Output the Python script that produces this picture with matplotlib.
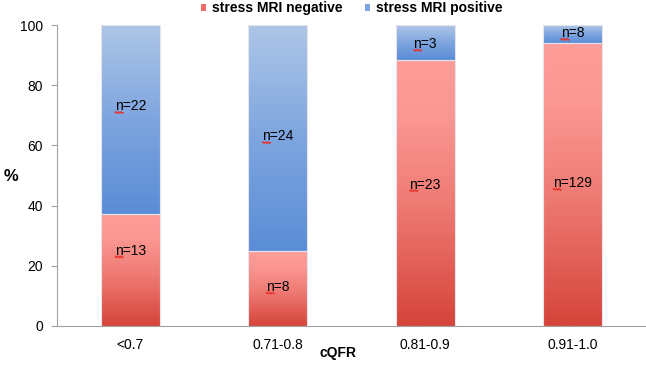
import numpy as np
import matplotlib
matplotlib.use("Agg")
import matplotlib.pyplot as plt
from matplotlib.colors import LinearSegmentedColormap
from matplotlib.patches import Patch

plt.rcParams['font.family'] = ['Liberation Sans', 'DejaVu Sans']

categories = ["<0.7", "0.71-0.8", "0.81-0.9", "0.91-1.0"]
n_negative = [13, 8, 23, 129]
n_positive = [22, 24, 3, 8]
series_names = ["stress MRI negative", "stress MRI positive"]

neg = np.array(n_negative, float)
pos = np.array(n_positive, float)
pct_neg = 100 * neg / (neg + pos)
pct_pos = 100 - pct_neg

red_cmap = LinearSegmentedColormap.from_list(
    "r", [(0, "#d5443a"), (0.45, "#ee7a73"), (0.8, "#fc9893"), (1, "#ff9d99")])
blue_cmap = LinearSegmentedColormap.from_list(
    "b", [(0, "#5a8dd6"), (0.5, "#7ea5df"), (1, "#adc6e7")])

fig = plt.figure(figsize=(6.46, 3.65), dpi=100)
ax = fig.add_axes([0.088, 0.107, 0.912, 0.8245])
x = np.arange(len(categories))
width = 0.4

grad = np.linspace(0, 1, 256).reshape(-1, 1)

def grad_bar(xc, bottom, height, cmap):
    bars = ax.bar(xc, height, width, bottom=bottom, facecolor="none",
                  edgecolor="#e4e4ea", linewidth=0.8, zorder=3)
    rect = bars[0]
    im = ax.imshow(grad, cmap=cmap, origin="lower", aspect="auto",
                   extent=(xc - width / 2, xc + width / 2, bottom, bottom + height),
                   zorder=2, interpolation="bilinear")
    im.set_clip_path(rect)

for i in range(len(categories)):
    grad_bar(x[i], 0, pct_neg[i], red_cmap)
    grad_bar(x[i], pct_neg[i], pct_pos[i], blue_cmap)

# label positions (layout)
neg_label_y = [25, 13, 47, 47.5]
pos_label_y = [73, 63, 93.7, 97.3]

texts = []
for i in range(len(categories)):
    texts.append(ax.text(x[i], neg_label_y[i], f"n={n_negative[i]}", ha="center",
                         va="center", fontsize=10, zorder=5))
    texts.append(ax.text(x[i], pos_label_y[i], f"n={n_positive[i]}", ha="center",
                         va="center", fontsize=10, zorder=5))

ax.set_xlim(-0.5, 3.5)
ax.set_ylim(0, 100)
ax.set_yticks([0, 20, 40, 60, 80, 100])
ax.set_xticks(x)
ax.set_xticklabels(categories, fontsize=10)
ax.tick_params(axis="y", labelsize=10, length=4, color="#a0a0a0", pad=6)
ax.tick_params(axis="x", length=0, pad=9)
for s in ["top", "right"]:
    ax.spines[s].set_visible(False)
ax.spines["left"].set_color("#a0a0a0")
ax.spines["bottom"].set_color("#a0a0a0")
ax.set_xlabel("cQFR", fontsize=10, fontweight="bold")
ax.xaxis.set_label_coords((337 - 56) / 589, -(353 - 326) / 301)
ax.xaxis.label.set_va("center")
ax.set_ylabel("%", fontsize=12, fontweight="bold", rotation=0)
ax.yaxis.set_label_coords((10 - 56) / 589, (326 - 177) / 301)
ax.yaxis.label.set_va("center")
ax.yaxis.label.set_ha("center")

handles = [Patch(facecolor="#ec6d66", edgecolor="none"),
           Patch(facecolor="#7ba3dd", edgecolor="none")]
fig.legend(handles, series_names, loc="center", bbox_to_anchor=(351.5 / 646, 1 - 8 / 365),
           ncol=2, frameon=False, prop={"weight": "bold", "size": 10},
           handlelength=0.4, handleheight=0.4, handletextpad=0.4, columnspacing=1.6,
           borderpad=0, borderaxespad=0)

fig.canvas.draw()
inv = fig.transFigure.inverted()
for t in texts:
    bb = t.get_window_extent()
    fs_px = t.get_fontsize() * fig.dpi / 72
    x0 = bb.x0 + 0.3
    x1 = bb.x0 + 0.6 * fs_px
    ybase = bb.y0 + 0.21 * fs_px - 2.2
    xs = np.linspace(x0, x1, 40)
    ys = ybase + 0.9 * np.sin((xs - x0) / (x1 - x0) * 2 * np.pi * 3)
    pts = inv.transform(np.column_stack([xs, ys]))
    fig.add_artist(plt.Line2D(pts[:, 0], pts[:, 1], color="#e8302c", lw=0.8))

fig.savefig("out.png", dpi=100)
